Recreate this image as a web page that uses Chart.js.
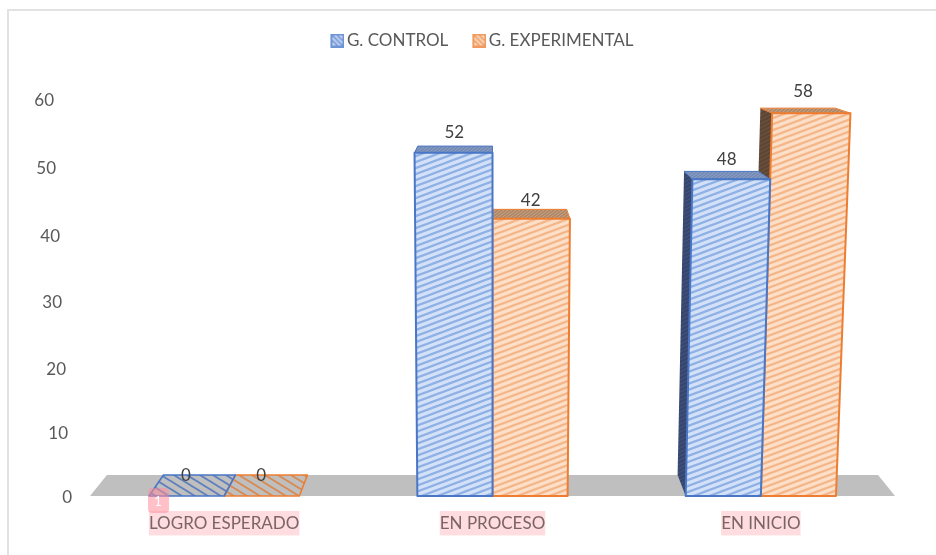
<!DOCTYPE html>
<html>
<head>
<meta charset="utf-8">
<script src="https://cdn.jsdelivr.net/npm/chart.js@4/dist/chart.umd.min.js"></script>
<style>
	html, body { margin: 0; padding: 0; background: #fff; }
	#wrap { position: relative; width: 936px; height: 555px; }
	#frame { position: absolute; left: 7px; top: 9px; right: 0; bottom: 0; border-left: 2px solid #e2e2e2; border-top: 2px solid #e2e2e2; }
	canvas { position: absolute; left: 0; top: 0; }
</style>
</head>
<body>
<div id="wrap">
	<div id="frame"></div>
	<canvas id="myChart" width="936" height="555"></canvas>
</div>
<script>
const categories = ['LOGRO ESPERADO', 'EN PROCESO', 'EN INICIO'];
const control = [0, 52, 48];
const experimental = [0, 42, 58];
const yTicks = [0, 10, 20, 30, 40, 50, 60];

// the reference's axis labels wander a little because of the 3D view
const tickNudgeY = [2, 4, 6, 5, 5, 3, 1];
const tickRightEdge = [72, 68, 66, 62, 60, 56, 54];

const BLUE = '#4a76c6';
const ORANGE = '#ED7D31';
const FONT = 'Lato';
const FONT_SIZE = 17;

// diagonal stripes rising to the right (falling if flip is set)
const stripes = (w, h, bg, fg, lw, flip) => {
	const c = document.createElement('canvas');
	c.width = w;
	c.height = h;
	const g = c.getContext('2d');
	if (bg) {
		g.fillStyle = bg;
		g.fillRect(0, 0, w, h);
	}
	g.strokeStyle = fg;
	g.lineWidth = lw;
	for (let k = -2; k <= 2; k++) {
		g.beginPath();
		if (flip) {
			g.moveTo(-w, k * h - h);
			g.lineTo(2 * w, k * h + 2 * h);
		} else {
			g.moveTo(-w, k * h + 2 * h);
			g.lineTo(2 * w, k * h - h);
		}
		g.stroke();
	}
	return c;
};
const pat = (c) => document.createElement('canvas').getContext('2d').createPattern(c, 'repeat');

const frontBlue = pat(stripes(16, 6, '#d2e1f8', '#8fb0e4', 2.2));
const frontOrange = pat(stripes(16, 6, '#fcdfc8', '#f4b688', 2.2));
const topBlue = pat(stripes(4, 3, '#6d88b8', '#8b9cbc', 1.2));
const topOrange = pat(stripes(4, 3, '#a98060', '#c4a080', 1.2));
const sideBlue = pat(stripes(8, 4, '#36466e', '#44557f', 1));
const sideOrange = pat(stripes(8, 4, '#5e4636', '#70543f', 1));
const floorBlue = pat(stripes(13, 8, null, '#5f80bd', 1.9, true));
const floorOrange = pat(stripes(13, 8, null, '#d98a50', 1.9, true));

// 6px blank on the left, the legend centres the image on a narrow box
const legendMark = (fill, line) => {
	const c = document.createElement('canvas');
	c.width = 20;
	c.height = 14;
	const g = c.getContext('2d');
	g.translate(6, 0);
	g.fillStyle = line;
	g.fillRect(0, 0, 14, 14);
	g.fillStyle = fill;
	g.fillRect(2, 2, 10, 10);
	g.strokeStyle = line;
	g.lineWidth = 1.6;
	g.beginPath();
	g.moveTo(2, 2);
	g.lineTo(12, 12);
	g.moveTo(2, 7);
	g.lineTo(7, 12);
	g.moveTo(7, 2);
	g.lineTo(12, 7);
	g.stroke();
	return c;
};
const legendMarks = [legendMark('#c3d4f0', '#6f94d6'), legendMark('#fbd8bd', '#f09a5e')];

const faces = [
	{ top: topBlue, side: sideBlue, flat: floorBlue },
	{ top: topOrange, side: sideOrange, flat: floorOrange }
];

const poly = (ctx, pts) => {
	ctx.beginPath();
	pts.forEach((p, i) => (i ? ctx.lineTo(p.x, p.y) : ctx.moveTo(p.x, p.y)));
	ctx.closePath();
};

const view3d = {
	id: 'view3d',
	beforeLayout(chart) {
		const legend = chart.legend;
		if (legend && !legend.__fit) {
			const fit = legend.fit;
			legend.__fit = true;
			legend.fit = function () {
				fit.call(this);
				this.height = 92;
			};
		}
	},
	beforeDatasetsDraw(chart) {
		const ctx = chart.ctx;
		const area = chart.chartArea;
		const cx = (area.left + area.right) / 2;
		const front = (x, y) => ({ x: cx + (x - cx) * (1 + 0.00011 * (area.bottom - y)), y: y });
		const back = (p) => ({ x: cx + (p.x - cx) * 0.958, y: p.y - (5 + (p.y - 112) * 0.0417) });

		const fl = { x: area.left, y: area.bottom };
		const fr = { x: area.right, y: area.bottom };
		ctx.save();
		ctx.fillStyle = '#bfbfbf';
		poly(ctx, [fl, fr, back(fr), back(fl)]);
		ctx.fill();

		// orange goes first so the blue bar covers its side wall
		[1, 0].forEach((d) => {
			const meta = chart.getDatasetMeta(d);
			const ds = chart.data.datasets[d];
			meta.data.forEach((bar, i) => {
				const l = bar.x - bar.width / 2;
				const r = bar.x + bar.width / 2;
				const bl = front(l, bar.base);
				const br = front(r, bar.base);
				const tl = front(l, bar.y);
				const tr = front(r, bar.y);
				ctx.lineJoin = 'round';
				ctx.strokeStyle = ds.borderColor;
				if (ds.data[i] === 0) {
					poly(ctx, [bl, br, back(br), back(bl)]);
					ctx.fillStyle = faces[d].flat;
					ctx.fill();
					ctx.lineWidth = 1.6;
					ctx.stroke();
					return;
				}
				poly(ctx, [bl, tl, back(tl), back(bl)]);
				ctx.fillStyle = faces[d].side;
				ctx.fill();
				poly(ctx, [tl, tr, back(tr), back(tl)]);
				ctx.fillStyle = faces[d].top;
				ctx.fill();
				ctx.lineWidth = 1;
				ctx.stroke();
				poly(ctx, [bl, br, tr, tl]);
				ctx.fillStyle = ds.backgroundColor;
				ctx.fill();
				ctx.lineWidth = 2;
				ctx.stroke();
			});
		});
		ctx.restore();
	},
	beforeDatasetDraw() {
		return false;
	},
	afterDatasetsDraw(chart) {
		const ctx = chart.ctx;
		const area = chart.chartArea;
		const cx = (area.left + area.right) / 2;
		ctx.save();
		ctx.font = FONT_SIZE + 'px ' + FONT;
		ctx.fillStyle = '#404040';
		ctx.textAlign = 'center';
		ctx.textBaseline = 'middle';
		chart.data.datasets.forEach((ds, d) => {
			chart.getDatasetMeta(d).data.forEach((bar, i) => {
				const v = ds.data[i];
				const y = bar.y - (v === 0 ? 20 : 7.5 + v * 0.25);
				const spread = v === 0 ? 1.002 : 1.015;
				ctx.fillText(String(v), cx + (bar.x - cx) * spread, y);
			});
		});

		ctx.fillStyle = '#595959';
		ctx.textAlign = 'right';
		const yScale = chart.scales.y;
		yTicks.forEach((v, i) => {
			ctx.fillText(String(v), tickRightEdge[i], yScale.getPixelForValue(v) + tickNudgeY[i]);
		});

		// comment marker sitting on the first bar
		const first = chart.getDatasetMeta(0).data[0];
		const mx = first.x - first.width / 2 - 1;
		const my = area.bottom;
		ctx.fillStyle = 'rgba(255, 140, 155, 0.55)';
		ctx.beginPath();
		ctx.roundRect(mx, my - 8, 21, 25, 4);
		ctx.fill();
		ctx.fillStyle = '#fff';
		ctx.textAlign = 'center';
		ctx.font = '13px ' + FONT;
		ctx.fillText('1', mx + 10, my + 6);
		ctx.restore();
	}
};

new Chart(document.getElementById('myChart').getContext('2d'), {
	type: 'bar',
	plugins: [view3d],
	data: {
		labels: categories,
		datasets: [{
			label: 'G. CONTROL',
			data: control,
			backgroundColor: frontBlue,
			borderColor: BLUE
		}, {
			label: 'G. EXPERIMENTAL',
			data: experimental,
			backgroundColor: frontOrange,
			borderColor: ORANGE
		}]
	},
	options: {
		responsive: false,
		animation: false,
		categoryPercentage: 0.56,
		barPercentage: 1,
		layout: {
			padding: { left: 69, right: 41, top: 8, bottom: 0 }
		},
		plugins: {
			tooltip: { enabled: false },
			title: { display: false },
			legend: {
				position: 'top',
				labels: {
					usePointStyle: true,
					boxWidth: 8,
					padding: 24,
					color: '#595959',
					font: { family: FONT, size: FONT_SIZE },
					generateLabels: (chart) => chart.data.datasets.map((d, i) => ({
						text: d.label,
						datasetIndex: i,
						pointStyle: legendMarks[i],
						fontColor: '#595959',
						lineWidth: 0,
						hidden: false
					}))
				}
			}
		},
		scales: {
			x: {
				grid: { display: false, drawTicks: false },
				border: { display: false },
				afterFit: (s) => { s.height = 59; },
				ticks: {
					color: '#7a6464',
					font: { family: FONT, size: FONT_SIZE },
					padding: 17,
					maxRotation: 0,
					showLabelBackdrop: true,
					backdropColor: '#ffdcdf',
					backdropPadding: { top: 2, bottom: 2, left: 0, right: 0 }
				}
			},
			y: {
				min: 0,
				max: 60,
				grid: { display: false },
				border: { display: false },
				ticks: { display: false, stepSize: 10 },
				afterFit: (s) => { s.width = 21; }
			}
		}
	}
});
</script>
</body>
</html>
